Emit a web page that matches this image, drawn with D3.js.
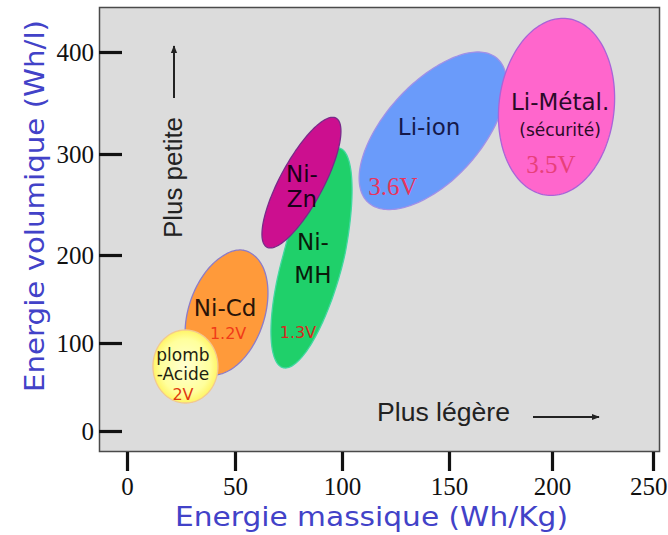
<!DOCTYPE html>
<html><head><meta charset="utf-8">
<script src="https://cdn.jsdelivr.net/npm/d3@7"></script>
<style>
html,body{margin:0;padding:0;background:#fff;}
svg{display:block;}
</style></head>
<body>
<script>
// ---------- data ----------
const techs      = ["Li-ion", "Li-Métal", "Ni-MH", "Ni-Zn", "Ni-Cd", "plomb-Acide"];
const massMin    = [108, 174, 66.8, 62.6, 26.9, 12.0];   // Wh/Kg
const massMax    = [178, 231, 104.7, 99.5, 65.4, 42.1];
const volMin     = [245, 259, 71.6, 207, 63.6, 31.8];   // Wh/l
const volMax     = [400, 433, 306, 336, 205, 114.8];
const massAtTop  = [164, 205.4, 98, 95.6, 52.3, 27.0];  // mass where each region reaches its highest Wh/l

const xTicks = [0, 50, 100, 150, 200, 250];
const yTicks = [0, 100, 200, 300, 400];

const labelText = ["Li-ion", "3.6V", "Li-Métal.", "(sécurité)", "3.5V", "Ni-", "Zn", "Ni-", "MH", "1.3V", "Ni-Cd", "1.2V", "plomb", "-Acide", "2V"];
const labelMass = [140.7, 123.8, 204, 204, 199.5, 81.3, 81.3, 86.4, 86.4, 79.4, 45.4, 46.8, 25.9, 25.9, 25.9];
const labelVol  = [318.6, 259.4, 343, 317.6, 281, 272.3, 247.5, 205, 168.2, 105.7, 130.5, 104.8, 79.5, 58, 35.2];
const labelKind = ["name", "vs", "name", "small", "vs", "name", "name", "name", "name", "volt", "name", "volt", "lead", "lead", "volt"];

// ---------- styles ----------
const fills   = ["#6A9BFA", "#FF66CC", "#1FD06A", "#CC0F8F", "#FF9A3A", "url(#gradLead)"];
const strokes = ["#A090E8", "#A864D8", "#40D8A0", "#7A2A8A", "#8C7CC8", "#F2C890"];
const labelFill = ["#15194A", "#E8345C", "#2A0A28", "#2A0A28", "#E8407A", "#1A001A", "#1A001A", "#0A1A0A", "#0A1A0A", "#D82820", "#2A1408", "#F03A18", "#1E2210", "#1E2210", "#E03A10"];

const W = 668, H = 535;
const svg = d3.select("body").append("svg").attr("width", W).attr("height", H);

const defs = svg.append("defs");
const g = defs.append("radialGradient").attr("id", "gradLead");
g.append("stop").attr("offset", "0%").attr("stop-color", "#FFFFD2");
g.append("stop").attr("offset", "75%").attr("stop-color", "#FFFF9C");
g.append("stop").attr("offset", "100%").attr("stop-color", "#FFF466");
const mk = defs.append("marker").attr("id", "arr").attr("viewBox", "0 0 10 10")
  .attr("refX", 9).attr("refY", 5).attr("markerWidth", 4).attr("markerHeight", 4)
  .attr("orient", "auto-start-reverse");
mk.append("path").attr("d", "M0,1 L10,5 L0,9 Z").attr("fill", "#222");

// scales (the source picture is slightly uneven between ticks)
const x = d3.scaleLinear().domain(xTicks).range([127, 235, 342, 449, 552, 653]);
const y = d3.scaleLinear().domain(yTicks).range([431, 343, 255, 154, 52]);

// plot frame
svg.append("rect").attr("x", 99.5).attr("y", 7.5).attr("width", 560).attr("height", 444)
  .attr("fill", "#DCDCDC").attr("stroke", "#4a4a4a").attr("stroke-width", 1.5);

// regions
const line = d3.line().x(d => x(d[0])).y(d => y(d[1])).curve(d3.curveLinearClosed);
techs.forEach((name, i) => {
  const cx = (massMin[i] + massMax[i]) / 2, dx = (massMax[i] - massMin[i]) / 2;
  const cy = (volMin[i] + volMax[i]) / 2, dy = (volMax[i] - volMin[i]) / 2;
  const th = Math.acos(Math.max(-1, Math.min(1, (massAtTop[i] - cx) / dx)));
  const pts = d3.range(0, 180).map(k => {
    const t = k / 180 * 2 * Math.PI;
    return [cx + dx * Math.cos(t), cy + dy * Math.cos(t - th)];
  });
  svg.append("path").attr("d", line(pts)).attr("fill", fills[i])
    .attr("stroke", strokes[i]).attr("stroke-width", 1.3);
});

// labels
const kindFont = {
  name:  {f: "'DejaVu Sans', sans-serif", s: 23},
  small: {f: "'DejaVu Sans', sans-serif", s: 17},
  vs:    {f: "'Liberation Serif', serif", s: 25},
  volt:  {f: "'DejaVu Sans', sans-serif", s: 16},
  lead:  {f: "'DejaVu Sans', sans-serif", s: 17}
};
labelText.forEach((t, i) => {
  const st = kindFont[labelKind[i]];
  svg.append("text").attr("x", x(labelMass[i])).attr("y", y(labelVol[i]))
    .attr("text-anchor", "middle").attr("font-family", st.f).attr("font-size", st.s)
    .attr("fill", labelFill[i]).text(t);
});

// axes
const yAxis = svg.append("g").attr("transform", "translate(99,0)")
  .call(d3.axisLeft(y).tickValues(yTicks).tickSize(-23).tickPadding(5).tickFormat(d3.format("d")));
const xAxis = svg.append("g").attr("transform", "translate(0,452)")
  .call(d3.axisBottom(x).tickValues(xTicks).tickSize(19).tickPadding(6).tickFormat(d3.format("d")));
[yAxis, xAxis].forEach(a => {
  a.select(".domain").remove();
  a.selectAll(".tick line").attr("stroke", "#111").attr("stroke-width", 3.2);
  a.selectAll(".tick text").attr("font-family", "'Liberation Serif', serif")
    .attr("font-size", 25).attr("fill", "#111");
});
// keep the last bottom label inside the page
xAxis.selectAll(".tick text").filter(d => d === xTicks[xTicks.length - 1])
  .attr("text-anchor", "end").attr("x", 14);

// axis titles
svg.append("text").attr("transform", "translate(44,206) rotate(-90)")
  .attr("text-anchor", "middle").attr("font-family", "'DejaVu Sans', sans-serif")
  .attr("font-size", 26).attr("fill", "#4242C8")
  .attr("textLength", 372).attr("lengthAdjust", "spacingAndGlyphs")
  .text("Energie volumique  (Wh/l)");
svg.append("text").attr("x", 371.5).attr("y", 526)
  .attr("text-anchor", "middle").attr("font-family", "'DejaVu Sans', sans-serif")
  .attr("font-size", 26).attr("fill", "#4242C8")
  .attr("textLength", 393).attr("lengthAdjust", "spacingAndGlyphs")
  .text("Energie massique  (Wh/Kg)");

// direction hints
svg.append("text").attr("transform", "translate(182,177.5) rotate(-90)")
  .attr("text-anchor", "middle").attr("font-family", "'Liberation Sans', Arial, sans-serif")
  .attr("font-size", 26).attr("fill", "#222")
  .attr("textLength", 121).attr("lengthAdjust", "spacingAndGlyphs")
  .text("Plus petite");
svg.append("line").attr("x1", 174).attr("y1", 98).attr("x2", 174).attr("y2", 46)
  .attr("stroke", "#222").attr("stroke-width", 2).attr("marker-end", "url(#arr)");
svg.append("text").attr("x", 377).attr("y", 421)
  .attr("font-family", "'Liberation Sans', Arial, sans-serif")
  .attr("font-size", 26).attr("fill", "#222")
  .attr("textLength", 133).attr("lengthAdjust", "spacingAndGlyphs")
  .text("Plus légère");
svg.append("line").attr("x1", 533).attr("y1", 417).attr("x2", 599).attr("y2", 417)
  .attr("stroke", "#222").attr("stroke-width", 2).attr("marker-end", "url(#arr)");
</script>
</body></html>
